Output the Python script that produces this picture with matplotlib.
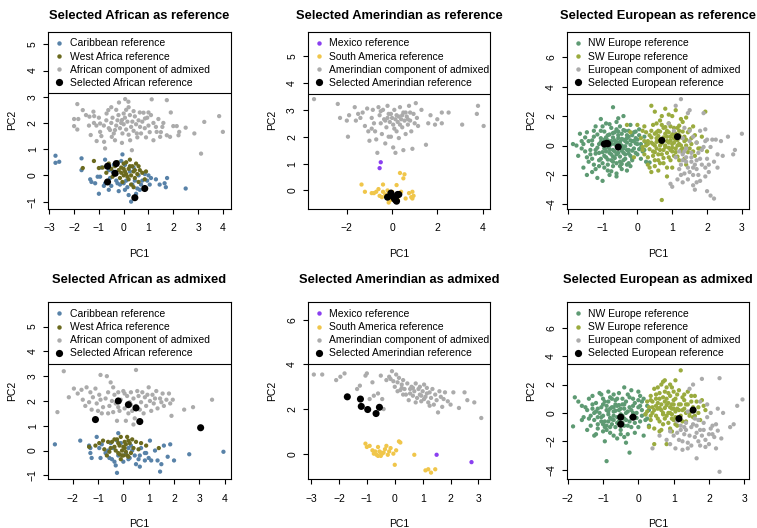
import numpy as np
import matplotlib
matplotlib.use("Agg")
import matplotlib.pyplot as plt
from matplotlib.lines import Line2D

plt.rcParams["font.family"] = ["Liberation Sans", "DejaVu Sans"]

# ── Colours ────────────────────────────────────────────────────────────────
CARIB = "#5882a8"
WAFR = "#6b6a1e"
GREY = "#ababab"
MEX = "#8a3ff0"
SAM = "#f0c64a"
NWE = "#5e9a73"
SWE = "#9aab3e"
BLACK = "#000000"

# ── Data: (PC1, PC2) pairs ────────────────────────────────────────────────
# Panel 1: Selected African as reference
afr_ref_carib = np.array([
    (-2.75, 0.75), (-2.75, 0.48), (-2.6, 0.52), (-1.7, 0.65), (-1.7, 0.2), (-1.35, -0.15),
    (-1.3, -0.25), (-1.0, -0.7), (-1.05, -0.05), (-0.95, -0.05), (-0.8, -0.4), (-0.75, -0.3),
    (-0.75, 0.6), (-0.6, 0.2), (-0.55, -0.1), (-0.45, 0.15), (-0.4, 0.4), (-0.3, -0.2),
    (-0.25, -0.3), (-0.2, -0.6), (-0.1, 0.55), (-0.05, 0.8), (0.0, -0.3), (0.05, -0.55),
    (0.1, -0.2), (0.2, -0.75), (0.3, -1.0), (0.35, -0.35), (0.45, -0.2), (0.5, -0.7),
    (0.55, -0.5), (0.6, 0.0), (0.7, -0.35), (0.75, -0.2), (0.85, 0.05), (0.95, -0.2),
    (1.05, -0.35), (1.1, -0.1), (1.3, -0.15), (1.45, -0.35), (1.65, -0.3), (1.7, -0.45),
    (1.75, -0.1), (2.5, -0.5), (-0.6, -0.55), (-0.35, 0.1), (0.25, 0.15), (0.4, 0.3),
    (0.05, 0.4), (-0.9, 0.3), (-0.5, -0.4), (-0.15, -0.35), (0.15, -0.45), (0.65, -0.55),
    (-1.15, -0.3), (1.0, 0.0)])
afr_ref_wafr = np.array([
    (-1.65, 0.28), (-1.2, 0.55), (-1.0, 0.28), (-0.85, 0.3), (-0.7, 0.1), (-0.6, 0.45),
    (-0.5, 0.25), (-0.45, -0.05), (-0.35, 0.35), (-0.25, 0.5), (-0.2, 0.2), (-0.15, -0.1),
    (-0.1, 0.3), (0.0, 0.45), (0.05, 0.15), (0.1, 0.5), (0.15, -0.05), (0.2, 0.25),
    (0.25, 0.6), (0.3, 0.0), (0.35, 0.35), (0.4, 0.15), (0.45, -0.1), (0.5, 0.45),
    (0.55, 0.05), (0.6, -0.25), (0.65, 0.2), (0.75, 0.1), (0.85, -0.15), (0.9, 0.15),
    (0.3, -0.35), (-0.05, -0.25), (0.2, -0.15), (0.0, 0.0), (0.4, -0.45), (0.1, 0.05),
    (-0.3, 0.05), (0.6, 0.35), (0.0, 0.25), (0.25, 0.35), (0.45, 0.2), (-0.1, 0.1)])
afr_ref_admix = np.array([
    (-1.87, 2.72), (-1.65, 2.49), (-2.0, 2.15), (-1.83, 2.15), (-2.0, 1.88), (-1.87, 1.75),
    (-1.52, 2.3), (-1.38, 2.24), (-1.22, 2.43), (-1.19, 2.26), (-1.33, 1.54), (-1.09, 1.31),
    (-0.75, 1.03), (-0.79, 1.28), (-0.95, 1.98), (-0.95, 1.66), (-0.69, 2.36), (-0.62, 2.49),
    (-0.55, 1.73), (-0.35, 1.73), (-0.48, 1.47), (-0.35, 1.34), (-0.19, 2.78), (0.06, 2.91),
    (0.19, 2.81), (-0.21, 2.3), (0.0, 2.36), (-0.07, 2.11), (0.26, 1.34), (-0.07, 1.24),
    (0.33, 0.96), (0.53, 1.6), (0.66, 1.85), (0.8, 2.39), (0.86, 2.17), (1.13, 2.9),
    (1.74, 2.87), (1.9, 2.4), (1.2, 1.34), (1.33, 1.66), (1.47, 1.47), (1.56, 1.85),
    (1.74, 1.53), (1.87, 1.47), (2.0, 1.88), (2.14, 1.88), (2.21, 1.53), (2.24, 1.66),
    (2.5, 1.82), (2.85, 1.6), (3.12, 0.83), (3.25, 2.04), (3.85, 2.26), (4.0, 1.66),
    (-0.8, 1.9), (-0.7, 2.1), (-0.6, 1.8), (-0.5, 2.0), (-0.45, 2.2), (-0.4, 1.6),
    (-0.3, 1.9), (-0.25, 2.1), (-0.15, 1.8), (-0.1, 2.0), (-0.05, 1.6), (0.0, 1.95),
    (0.05, 2.2), (0.1, 1.75), (0.15, 2.05), (0.2, 1.55), (0.25, 2.3), (0.3, 1.85),
    (0.35, 2.05), (0.4, 1.7), (0.45, 2.25), (0.5, 1.95), (0.55, 1.45), (0.6, 2.1),
    (0.7, 1.6), (0.75, 2.05), (0.85, 1.8), (0.9, 1.45), (0.95, 2.2), (1.0, 1.9),
    (1.05, 1.65), (1.1, 2.3), (1.2, 2.0), (1.3, 1.85), (1.4, 2.15), (1.5, 1.65),
    (1.6, 2.0), (-1.1, 1.9), (-1.2, 2.0), (-1.0, 2.2), (-0.9, 1.5), (-1.4, 1.9),
    (0.1, 2.5), (0.4, 2.45), (-0.3, 2.5), (0.65, 2.4), (1.0, 2.4), (0.2, 2.6), (-0.5, 2.6)])
afr_ref_sel = np.array([
    (-0.65, 0.35), (-0.3, 0.45), (-0.35, 0.08), (-0.65, -0.25), (0.85, -0.5), (0.45, -0.85)])

# Panel 2: Selected Amerindian as reference
ame_ref_mex = np.array([(-0.5, 1.05), (-0.55, 0.83)])
ame_ref_sam = np.array([
    (-1.35, 0.22), (-1.2, -0.05), (-0.9, -0.1), (-0.8, -0.1), (-0.7, -0.05), (-0.6, 0.05),
    (-0.55, -0.2), (-0.4, 0.22), (-0.4, -0.05), (-0.3, -0.15), (-0.2, -0.3), (-0.15, -0.45),
    (-0.1, -0.15), (0.0, -0.05), (0.1, -0.25), (0.2, 0.2), (0.35, 0.65), (0.5, 0.45),
    (0.55, 0.6), (0.4, -0.05), (0.6, -0.3), (0.75, -0.1), (0.85, -0.25), (0.9, -0.05),
    (0.95, -0.2), (-0.2, 0.0), (-0.05, -0.35), (0.3, -0.2), (0.9, -0.3), (-0.45, -0.25),
    (0.25, -0.35)])
ame_ref_admix = np.array([
    (-3.45, 3.4), (-2.4, 3.22), (-2.0, 2.6), (-1.9, 2.8), (-1.95, 2.0), (-1.65, 3.1),
    (-1.5, 2.85), (-1.6, 2.6), (-1.3, 2.9), (-1.2, 2.4), (-1.1, 3.05), (-1.05, 2.2),
    (-1.0, 1.85), (-0.9, 2.7), (-0.85, 3.0), (-0.8, 2.5), (-0.75, 2.2), (-0.7, 1.9),
    (-0.65, 1.4), (-0.6, 3.1), (-0.55, 2.8), (-0.5, 2.5), (-0.45, 2.1), (-0.4, 3.0),
    (-0.35, 2.65), (-0.3, 1.75), (-0.25, 2.35), (-0.2, 3.15), (-0.15, 2.85), (-0.1, 2.55),
    (-0.05, 2.0), (0.0, 2.7), (0.05, 1.6), (0.1, 3.0), (0.1, 2.3), (0.15, 1.4),
    (0.2, 2.8), (0.25, 2.55), (0.3, 1.95), (0.35, 3.1), (0.4, 2.65), (0.45, 2.35),
    (0.5, 1.5), (0.5, 2.9), (0.55, 2.6), (0.6, 2.1), (0.65, 2.75), (0.7, 2.45),
    (0.75, 3.15), (0.8, 2.6), (0.85, 2.2), (0.9, 1.55), (0.95, 2.85), (1.0, 2.5),
    (1.05, 3.25), (1.1, 2.7), (1.15, 2.4), (1.3, 3.0), (1.5, 1.7), (1.6, 2.5),
    (1.7, 2.8), (1.9, 2.45), (2.0, 2.65), (2.2, 2.9), (2.2, 2.5), (2.5, 2.9),
    (3.1, 2.45), (3.8, 3.15), (3.75, 2.85), (4.05, 2.4), (-0.15, 2.0), (-0.5, 2.95),
    (0.3, 2.75), (0.05, 2.45), (-0.3, 2.6), (0.6, 2.9), (0.2, 2.2), (-0.9, 2.3),
    (-1.4, 2.7), (0.8, 2.9), (-2.3, 2.7), (0.35, 2.45), (-0.05, 2.85), (0.7, 2.65),
    (0.15, 2.65), (0.45, 2.8), (-0.2, 2.7)])
ame_ref_sel = np.array([
    (-0.2, -0.25), (-0.05, -0.1), (0.0, -0.2), (0.1, -0.3), (0.2, -0.4), (0.25, -0.15),
    (0.3, -0.15), (0.15, -0.35)])

# Panel 3: Selected European as reference
eur_ref_nw = np.array([
    (-1.85, 0.1), (-1.7, -0.7), (-1.65, 0.8), (-1.5, 0.55), (-1.55, -1.5), (-1.45, -2.0),
    (-1.4, 0.3), (-1.35, -0.3), (-1.3, -0.9), (-1.25, 0.6), (-1.2, -1.6), (-1.15, -2.2),
    (-1.1, 0.1), (-1.1, -0.5), (-1.05, 1.0), (-1.0, -1.2), (-1.0, -2.4), (-0.95, 0.4),
    (-0.95, -0.2), (-0.9, 1.5), (-0.9, -0.8), (-0.85, 0.7), (-0.85, -1.7), (-0.8, 0.0),
    (-0.8, -0.5), (-0.8, -2.0), (-0.75, 1.2), (-0.75, 0.3), (-0.75, -1.0), (-0.7, 2.6),
    (-0.7, -0.3), (-0.7, -1.4), (-0.65, 0.9), (-0.65, 0.1), (-0.6, 1.6), (-0.6, -0.6),
    (-0.6, -1.9), (-0.55, 0.5), (-0.55, -0.2), (-0.5, 1.3), (-0.5, -1.1), (-0.45, 0.8),
    (-0.45, 0.0), (-0.45, -1.6), (-0.4, 2.0), (-0.4, 0.4), (-0.4, -0.5), (-0.35, 1.0),
    (-0.35, -0.9), (-0.3, 0.2), (-0.3, -1.3), (-0.25, 0.6), (-0.25, -0.3), (-0.2, 1.4),
    (-0.2, -0.7), (-0.15, 0.3), (-0.15, -1.0), (-0.1, 0.9), (-0.1, -0.2), (-0.05, 0.5),
    (0.0, -0.6), (0.05, 1.1), (0.1, 0.1), (0.15, -0.4), (0.2, 0.6), (0.25, -1.1),
    (0.3, -1.2), (0.35, -1.15), (-1.25, -1.3), (-1.3, 0.05), (-1.15, -0.15), (-1.05, 0.5),
    (-1.0, 0.2), (-0.9, -0.4), (-0.85, 0.35), (-0.7, 0.55), (-0.65, -0.85), (-0.55, 0.95),
    (-0.5, 0.25), (-0.35, -0.05), (-0.25, -0.55), (-0.2, 0.05), (-0.15, 0.7), (-0.05, 0.15),
    (0.0, 0.4), (0.1, -0.15), (-1.6, -0.2), (-1.45, 0.9), (-1.2, 1.3), (-0.95, -1.5),
    (-0.75, -1.75), (-0.5, -1.4), (-0.3, -1.7), (-1.05, -0.9), (-0.6, 0.0), (-0.9, 0.15),
    (-1.2, -0.55), (-0.4, -0.2), (-0.3, 0.7),
    (-1.3, 0.35), (-1.2, -0.3), (-1.15, 0.75), (-1.1, -1.0), (-1.05, 0.25), (-1.0, -0.45),
    (-0.95, 0.95), (-0.9, -0.15), (-0.9, 0.55), (-0.85, -0.95), (-0.85, 0.0), (-0.8, 0.75),
    (-0.8, -0.25), (-0.75, -0.6), (-0.75, 0.1), (-0.7, 0.85), (-0.7, -0.75), (-0.65, 0.35),
    (-0.65, -0.4), (-0.6, 1.1), (-0.6, -1.2), (-0.6, 0.25), (-0.55, -0.5), (-0.55, 0.7),
    (-0.5, -0.75), (-0.5, 0.05), (-0.45, 0.45), (-0.45, -0.35), (-0.4, 1.05), (-0.4, -1.0),
    (-0.35, 0.3), (-0.35, -0.6), (-0.3, -0.3), (-0.3, 0.5), (-0.25, 1.0), (-0.25, -1.2),
    (-0.2, 0.35), (-0.15, -0.35), (-0.1, 0.3), (-0.05, -0.5), (0.0, 0.1), (0.05, -0.25),
    (-1.35, -0.6), (-1.4, -1.1), (-1.5, -0.4), (-1.25, 1.0), (-1.0, 1.3), (-0.8, 1.45),
    (-0.55, 1.85), (-0.95, -0.7), (-1.1, -1.4), (-0.7, -1.1), (-0.45, -1.25), (-0.2, -1.4),
    (-0.85, -1.3), (-1.3, -1.8), (-0.6, -2.1), (-1.05, 1.8), (-1.6, 0.3), (-1.75, 0.0),
    (-1.55, 0.1), (-1.45, -0.8), (0.05, 0.7), (0.2, -0.3), (0.25, 0.2), (-0.05, 0.95),
    (-0.15, -0.85), (0.1, -0.9)])
eur_ref_sw = np.array([
    (0.1, 0.5), (0.15, -0.3), (0.2, 1.3), (0.25, 0.0), (0.3, -0.8), (0.35, 0.7),
    (0.35, -1.5), (0.4, 2.7), (0.4, 0.2), (0.45, -0.4), (0.45, 1.4), (0.5, 2.3),
    (0.5, -1.0), (0.55, 0.5), (0.55, -0.2), (0.6, 1.0), (0.6, -1.7), (0.65, 0.0),
    (0.65, 1.7), (0.7, -0.6), (0.7, 0.4), (0.75, 1.2), (0.75, -1.2), (0.8, 2.5),
    (0.8, 0.8), (0.8, -0.1), (0.85, -2.1), (0.85, 0.3), (0.9, -0.8), (0.9, 1.5),
    (0.95, 0.6), (0.95, -0.3), (1.0, 2.0), (1.0, 0.1), (1.0, -1.5), (1.05, 0.9),
    (1.05, -0.7), (1.1, 2.4), (1.1, 0.4), (1.1, -0.2), (1.15, 1.2), (1.2, -1.0),
    (1.2, 0.7), (1.25, 0.0), (1.3, 1.6), (1.3, -0.5), (1.35, 0.3), (1.4, -1.3),
    (1.45, 0.9), (1.5, -0.2), (1.55, 0.5), (1.6, 1.3), (1.65, -0.7), (1.7, 0.2),
    (1.8, -0.2), (1.85, 0.6), (1.95, 2.3), (2.0, -0.4), (0.7, -3.7), (0.4, -1.8),
    (0.55, 0.9), (0.6, 0.3), (0.75, -0.3), (0.85, 1.0), (0.9, 0.2), (0.95, 1.3),
    (1.0, -0.4), (1.05, 0.5), (1.15, 0.0), (1.2, 1.0), (1.25, -0.3), (1.35, 0.6),
    (1.4, 0.0), (0.25, 0.9), (0.3, 0.3), (0.5, 0.0), (0.45, -0.7), (0.65, -1.2),
    (0.2, -0.6), (0.15, 1.0), (-0.2, 0.9), (-0.1, -0.8), (0.0, 1.4), (-0.3, 1.4),
    (0.3, 0.1), (0.35, -0.25), (0.4, 0.55), (0.45, 0.1), (0.5, 0.8), (0.5, -0.45),
    (0.55, 0.25), (0.6, -0.6), (0.6, 0.65), (0.65, -0.3), (0.65, 0.95), (0.7, 0.15),
    (0.7, 1.4), (0.75, -0.85), (0.75, 0.55), (0.8, 0.0), (0.8, 1.25), (0.85, -0.5),
    (0.85, 0.6), (0.9, -0.15), (0.9, 0.9), (0.95, -1.0), (0.95, 0.35), (1.0, 0.75),
    (1.0, -0.15), (1.05, 1.2), (1.05, 0.2), (1.1, -0.45), (1.1, 0.8), (1.15, 0.35),
    (1.15, -0.75), (1.2, 1.35), (1.2, 0.1), (1.25, 0.55), (1.3, -0.2), (1.3, 0.95),
    (1.35, -0.9), (1.4, 0.4), (1.45, -0.45), (1.5, 1.1), (1.55, 0.1), (1.6, -0.4),
    (1.65, 0.7), (1.75, -0.2), (0.4, 1.0), (0.55, 1.5), (0.6, -1.0), (0.85, -1.5),
    (0.9, 2.1), (1.25, 1.8), (0.3, -1.3), (0.5, -1.4), (0.7, 2.0), (1.4, 1.9),
    (0.2, 0.3), (0.15, -0.1)])
eur_ref_admix = np.array([
    (0.9, 1.5), (1.05, 1.0), (1.1, -0.8), (1.2, -1.6), (1.25, -2.0), (1.3, 0.5),
    (1.35, -0.4), (1.4, -1.1), (1.45, -2.3), (1.5, 2.4), (1.5, 1.0), (1.55, -0.8),
    (1.6, -1.5), (1.6, -2.7), (1.65, -3.0), (1.7, 0.2), (1.7, -1.0), (1.75, -2.0),
    (1.8, 1.0), (1.85, -0.3), (1.85, -1.3), (1.9, 2.2), (1.95, -2.1), (2.0, 0.4),
    (2.0, -0.9), (2.05, -1.8), (2.1, -3.4), (2.15, 0.4), (2.2, -3.6), (2.2, -1.1),
    (2.25, 0.4), (2.3, -0.6), (2.45, -0.7), (2.6, 0.6), (2.75, -0.6), (2.8, -0.3),
    (3.0, 0.8), (1.1, 2.7), (1.25, 3.15), (1.45, 2.2), (1.3, -1.0), (1.4, -0.2),
    (1.5, -1.8), (1.55, -0.5), (1.65, -1.3), (1.75, -0.5), (1.95, -1.5), (2.0, -3.1),
    (1.0, -2.8), (0.95, -2.6), (1.15, -2.3), (1.3, -2.5), (1.8, -2.4), (1.7, -2.5),
    (2.1, -0.1), (1.6, 0.6), (1.2, -0.4), (1.35, 1.2), (1.95, 1.1),
    (1.3, -0.6), (1.45, -1.5), (1.55, -1.1), (1.6, -2.0), (1.7, -1.6), (1.8, -0.9),
    (1.9, -0.1), (2.05, -1.3), (1.25, -1.3), (1.4, -0.8), (1.5, 0.3), (2.3, -1.5),
    (2.4, 0.3), (1.95, 0.3), (1.35, -1.9)])
eur_ref_sel = np.array([
    (-0.95, 0.1), (-0.88, 0.15), (-0.85, 0.12), (-0.55, -0.1), (0.7, 0.35), (1.15, 0.6)])

# Panel 4: Selected African as admixed
afr_adm_carib = np.array([
    (-2.7, 0.25), (-1.7, 0.4), (-1.35, 0.2), (-1.3, -0.1), (-1.3, 0.1), (-1.25, -0.3),
    (-1.05, 0.55), (-0.95, 0.1), (-0.9, -0.3), (-0.85, 0.25), (-0.7, -0.1), (-0.6, 0.0),
    (-0.5, 0.3), (-0.45, -0.35), (-0.4, 0.1), (-0.35, -0.45), (-0.3, -0.6), (-0.25, 0.4),
    (-0.2, -0.2), (-0.2, 0.7), (-0.25, -0.9), (-0.1, 0.3), (0.0, -0.45), (0.1, -0.1),
    (0.2, 0.1), (0.25, -0.3), (0.3, 0.2), (0.35, 0.0), (0.45, -0.2), (0.5, -0.55),
    (0.6, -0.35), (0.65, -0.2), (0.7, 0.1), (0.85, -0.4), (0.9, -0.1), (1.0, -0.3),
    (1.05, 0.4), (1.1, -0.4), (1.25, 0.0), (1.35, -0.4), (1.45, -0.85), (1.5, -0.55),
    (1.6, 0.2), (1.75, -0.25), (1.85, 0.25), (2.0, -0.4), (2.6, -0.15), (3.95, -0.05),
    (0.65, -0.65), (0.2, -0.35), (-0.55, -0.3), (0.85, -0.1)])
afr_adm_wafr = np.array([
    (-1.35, 0.15), (-1.1, 0.2), (-0.95, 0.3), (-0.8, 0.4), (-0.75, 0.05), (-0.65, -0.2),
    (-0.6, 0.35), (-0.5, 0.1), (-0.45, 0.35), (-0.35, 0.15), (-0.3, 0.0), (-0.25, 0.45),
    (-0.2, -0.1), (-0.15, 0.2), (-0.1, -0.35), (-0.1, 0.55), (-0.05, 0.0), (0.0, -0.2),
    (0.05, 0.35), (0.1, -0.05), (0.15, 0.55), (0.2, -0.25), (0.25, 0.3), (0.3, -0.1),
    (0.35, 0.45), (0.4, 0.1), (0.5, 0.35), (0.6, 0.05), (0.7, 0.3), (0.9, 0.2),
    (1.4, 0.1), (-0.15, -0.15), (0.0, 0.15), (0.15, -0.2), (-0.05, -0.2), (0.05, 0.1),
    (-0.55, -0.05), (-0.2, 0.3), (0.1, 0.25), (-0.35, 0.45), (0.2, 0.4)])
afr_adm_admix = np.array([
    (-2.6, 1.55), (-2.35, 3.2), (-2.15, 2.15), (-1.95, 2.5), (-1.8, 2.3), (-1.65, 2.45),
    (-1.6, 2.05), (-1.5, 1.8), (-1.45, 2.55), (-1.3, 2.35), (-1.25, 1.65), (-1.2, 2.15),
    (-1.1, 2.5), (-1.05, 1.9), (-1.0, 1.6), (-0.95, 2.25), (-0.9, 2.05), (-0.85, 1.5),
    (-0.8, 1.75), (-0.7, 2.1), (-0.65, 3.0), (-0.6, 2.35), (-0.55, 1.8), (-0.5, 2.75),
    (-0.45, 2.0), (-0.4, 1.55), (-0.35, 2.25), (-0.3, 1.9), (-0.25, 1.2), (-0.2, 2.35),
    (-0.15, 1.6), (-0.1, 2.05), (0.0, 2.4), (0.05, 1.7), (0.1, 1.2), (0.15, 2.2),
    (0.2, 1.5), (0.25, 1.95), (0.3, 2.35), (0.35, 1.6), (0.4, 2.1), (0.45, 1.3),
    (0.5, 3.25), (0.5, 1.8), (0.55, 2.4), (0.6, 2.2), (0.7, 1.95), (0.75, 2.35),
    (0.8, 1.5), (0.85, 2.15), (0.9, 1.8), (1.0, 2.55), (1.05, 2.0), (1.1, 1.6),
    (1.15, 2.25), (1.2, 1.9), (1.3, 2.4), (1.35, 1.7), (1.45, 2.1), (1.5, 1.95),
    (1.55, 2.3), (1.6, 1.8), (1.7, 2.05), (1.8, 2.3), (1.85, 1.9), (1.9, 1.4),
    (1.95, 2.05), (2.4, 1.65), (2.75, 1.75), (3.5, 2.05), (-0.9, 3.05), (-0.4, 2.55),
    (0.05, 2.3), (0.3, 1.85), (-0.2, 1.75), (0.65, 1.65), (1.25, 2.1), (-1.35, 1.95),
    (-0.6, 1.5), (0.95, 2.25), (0.4, 1.05)])
afr_adm_sel = np.array([
    (-1.1, 1.25), (-0.2, 2.0), (0.2, 1.85), (0.5, 1.72), (0.65, 1.17), (3.05, 0.92)])

# Panel 5: Selected Amerindian as admixed
ame_adm_mex = np.array([(1.5, -0.05), (2.75, -0.38)])
ame_adm_sam = np.array([
    (-1.05, 0.45), (-1.0, 0.3), (-0.9, 0.35), (-0.8, 0.15), (-0.75, 0.0), (-0.7, 0.1),
    (-0.65, -0.05), (-0.6, 0.3), (-0.55, 0.1), (-0.5, -0.1), (-0.45, 0.0), (-0.35, 0.2),
    (-0.3, 0.35), (-0.25, -0.05), (-0.2, 0.1), (-0.15, 0.25), (-0.05, 0.0), (0.0, -0.5),
    (0.05, 0.15), (0.15, 0.55), (0.2, 0.5), (0.7, -0.05), (1.1, -0.75), (1.2, -0.7),
    (1.3, -0.85), (1.45, -0.7), (-0.6, -0.1), (-0.4, 0.05), (-0.5, 0.05)])
ame_adm_admix = np.array([
    (-2.9, 3.55), (-2.6, 3.55), (-2.1, 3.3), (-1.95, 3.45), (-1.8, 3.6), (-1.35, 2.9),
    (-1.25, 3.05), (-1.05, 3.5), (-1.0, 3.6), (-0.9, 2.45), (-0.8, 3.2), (-0.75, 2.6),
    (-0.6, 2.7), (-0.5, 3.5), (-0.45, 2.45), (-0.4, 2.0), (-0.3, 3.3), (-0.2, 3.45),
    (-0.15, 3.35), (-0.1, 3.7), (-0.05, 3.25), (0.0, 3.0), (0.05, 3.55), (0.1, 3.2),
    (0.15, 3.4), (0.2, 2.85), (0.25, 3.1), (0.3, 3.3), (0.35, 2.9), (0.4, 2.65),
    (0.45, 3.15), (0.5, 2.4), (0.55, 2.9), (0.6, 3.0), (0.65, 2.6), (0.7, 2.8),
    (0.75, 3.15), (0.8, 2.5), (0.85, 2.9), (0.9, 2.65), (0.95, 2.35), (1.0, 2.8),
    (1.05, 3.1), (1.1, 2.55), (1.15, 2.95), (1.2, 2.3), (1.25, 2.75), (1.3, 2.5),
    (1.35, 2.9), (1.4, 2.2), (1.45, 2.65), (1.5, 2.4), (1.6, 2.8), (1.55, 1.85),
    (1.65, 2.55), (1.7, 2.1), (1.8, 2.75), (1.9, 2.35), (2.0, 2.2), (2.1, 2.75),
    (2.3, 2.05), (2.5, 2.75), (2.6, 2.4), (2.85, 2.3), (3.1, 1.6), (0.1, 2.8),
    (0.9, 3.0), (0.3, 2.65), (1.25, 2.15), (0.75, 2.3), (1.75, 2.45), (0.55, 2.7),
    (0.95, 2.6), (1.15, 2.7), (0.65, 2.95), (1.05, 2.45), (0.25, 2.95)])
ame_adm_sel = np.array([
    (-1.7, 2.55), (-1.23, 2.45), (-1.2, 2.12), (-0.97, 1.98), (-0.67, 1.8), (-0.55, 2.08)])

# Panel 6: Selected European as admixed
eur_adm_nw = np.array([
    (-1.85, -0.95), (-1.8, 1.1), (-1.7, 0.8), (-1.6, -0.5), (-1.5, 0.4), (-1.45, -1.2),
    (-1.4, 1.0), (-1.35, -0.2), (-1.3, 0.6), (-1.25, -1.6), (-1.2, 0.1), (-1.15, -0.8),
    (-1.1, 1.4), (-1.05, -0.3), (-1.0, 0.6), (-1.0, -1.3), (-0.95, -2.0), (-0.9, 0.2),
    (-0.9, -3.4), (-0.85, -0.6), (-0.8, 1.1), (-0.8, -1.0), (-0.75, 0.4), (-0.7, -0.2),
    (-0.7, -1.6), (-0.65, 0.9), (-0.6, -0.7), (-0.55, 0.2), (-0.55, 1.4), (-0.5, -1.2),
    (-0.45, 0.6), (-0.4, -0.4), (-0.4, 1.8), (-0.35, -2.1), (-0.3, 0.1), (-0.3, -0.9),
    (-0.25, -2.8), (-0.25, 1.1), (-0.2, -0.3), (-0.15, 0.5), (-0.1, -1.4), (-0.05, 0.0),
    (0.0, 1.5), (0.05, -0.6), (0.1, 0.8), (0.15, -1.6), (0.2, -0.1), (0.25, 0.5),
    (0.3, -0.9), (-1.15, 0.3), (-1.05, -0.6), (-0.95, 0.8), (-0.85, -0.1), (-0.75, -0.45),
    (-0.65, 0.15), (-0.6, 0.5), (-0.5, -0.1), (-0.45, -0.7), (-0.35, 0.8), (-0.2, 0.2),
    (-0.1, -0.7), (0.0, 0.4), (-1.25, 0.0), (-0.95, -1.0), (-0.7, 1.3), (-0.4, 0.3),
    (-0.15, 1.0), (0.1, -0.2), (-1.4, -0.4), (-0.8, -1.4), (-0.3, -1.5), (0.05, 1.2),
    (-1.3, 0.3), (-1.25, -0.5), (-1.2, 0.7), (-1.15, -1.1), (-1.1, 0.0), (-1.05, 0.4),
    (-1.0, -0.2), (-1.0, 1.0), (-0.95, -0.6), (-0.9, 0.5), (-0.9, -1.2), (-0.85, 0.1),
    (-0.85, 0.8), (-0.8, -0.35), (-0.8, 0.3), (-0.75, -0.8), (-0.75, 1.0), (-0.7, 0.1),
    (-0.7, -0.5), (-0.65, 0.6), (-0.65, -1.0), (-0.6, -0.3), (-0.6, 1.0), (-0.55, -0.6),
    (-0.55, 0.55), (-0.5, 0.3), (-0.5, -1.5), (-0.45, -0.2), (-0.45, 1.0), (-0.4, -0.9),
    (-0.4, 0.6), (-0.35, 0.0), (-0.35, -0.5), (-0.3, 1.3), (-0.25, -0.6), (-0.25, 0.4),
    (-0.2, -1.0), (-0.15, 0.0), (-0.1, 0.7), (-0.05, -0.35), (0.0, 0.9), (0.0, -1.0),
    (0.1, 0.2), (0.15, 1.0), (0.2, -0.5), (-1.35, -0.9), (-1.45, 0.2), (-1.55, -0.3),
    (-1.2, -1.5), (-1.05, 1.3), (-0.85, 1.5), (-0.6, -1.8), (-0.4, -1.7), (-1.3, 1.2),
    (-1.6, 0.5), (-0.2, 1.6), (0.05, 0.5), (-0.9, -0.9), (-1.0, -0.8), (-0.7, 0.4),
    (-1.15, -0.3), (0.25, -0.4), (0.3, 0.2)])
eur_adm_sw = np.array([
    (0.2, -0.1), (0.25, 0.8), (0.3, -1.0), (0.35, 1.2), (0.4, 0.0), (0.45, 1.7),
    (0.45, -2.2), (0.5, 0.5), (0.55, -0.4), (0.6, 1.0), (0.6, -1.3), (0.65, 2.0),
    (0.65, 0.2), (0.7, -0.8), (0.75, 2.3), (0.75, 0.8), (0.8, -0.2), (0.8, -2.2),
    (0.85, 1.4), (0.9, 0.4), (0.9, -1.1), (0.95, 1.8), (1.0, -0.5), (1.0, 0.9),
    (1.05, 0.1), (1.1, 1.3), (1.1, -0.9), (1.15, 0.6), (1.2, 3.0), (1.2, -0.2),
    (1.25, 1.1), (1.3, 0.3), (1.35, -0.6), (1.4, 1.5), (1.45, 0.0), (1.5, 0.8),
    (1.55, -0.3), (1.6, 1.2), (1.7, 0.4), (1.75, -0.5), (1.8, 0.9), (1.9, 0.2),
    (0.55, 0.7), (0.7, -0.1), (0.85, 0.0), (0.95, 0.6), (1.05, -0.3), (1.15, 0.2),
    (1.3, 0.9), (0.4, 0.4), (0.35, -0.5), (0.5, 1.3), (0.75, 1.5), (1.0, 0.3),
    (0.6, 0.35), (0.8, 0.55), (0.95, -0.1), (1.35, 0.6), (0.25, 0.1),
    (0.3, 0.4), (0.35, -0.2), (0.4, 0.8), (0.45, 0.2), (0.5, -0.2), (0.5, 1.0),
    (0.55, 0.3), (0.6, -0.6), (0.6, 1.4), (0.65, 0.6), (0.7, 0.0), (0.7, 1.1),
    (0.75, -0.4), (0.75, 0.35), (0.8, 1.0), (0.8, 1.8), (0.85, -0.7), (0.85, 0.7),
    (0.9, 0.0), (0.9, 1.2), (0.95, 0.3), (0.95, -0.4), (1.0, 1.5), (1.0, 0.6),
    (1.05, -0.8), (1.05, 1.0), (1.1, 0.3), (1.15, -0.3), (1.15, 1.6), (1.2, 0.6),
    (1.25, -0.6), (1.25, 0.2), (1.3, 1.3), (1.35, 0.0), (1.4, 0.6), (1.45, -0.2),
    (1.5, 1.2), (1.55, 0.4), (1.6, -0.2), (1.65, 0.8), (1.7, 0.0), (1.85, 0.5),
    (0.55, 1.8), (0.7, 2.2), (0.9, 2.0), (1.05, 2.3), (0.45, -1.1), (0.65, -1.2),
    (0.95, -1.3), (0.35, 0.9)])
eur_adm_admix = np.array([
    (0.4, -2.5), (0.6, -1.6), (0.8, -1.9), (0.9, -2.2), (1.0, -1.6), (1.05, -2.5),
    (1.15, -1.9), (1.2, -1.2), (1.25, -2.6), (1.3, -1.5), (1.35, -0.7), (1.4, -2.1),
    (1.45, 1.7), (1.5, -1.0), (1.5, -2.3), (1.55, 2.0), (1.6, -0.4), (1.6, -1.7),
    (1.65, -3.2), (1.7, -2.0), (1.75, 0.8), (1.75, -1.2), (1.8, 2.4), (1.85, -0.7),
    (1.9, -2.4), (1.95, 0.6), (2.0, -1.5), (2.05, 0.0), (2.1, -0.9), (2.15, -1.7),
    (2.2, -2.5), (2.25, 0.3), (2.3, 2.45), (2.3, -4.15), (2.35, -1.8), (2.4, 0.0),
    (2.6, -1.0), (2.7, -0.8), (2.8, 0.5), (2.95, 0.95), (1.1, -0.6), (1.4, 0.1),
    (1.65, -0.9), (1.8, -1.6), (2.0, -2.2), (1.3, -1.0), (2.2, -0.8), (2.25, -1.25),
    (1.2, -0.9), (1.35, -1.2), (1.45, -1.6), (1.55, -0.8), (1.65, -1.4), (1.7, -0.5),
    (1.85, -1.2), (1.9, -1.9), (1.95, -0.3), (2.05, -1.1), (1.1, -1.4), (1.25, -2.0),
    (1.4, -2.5), (0.9, -1.3), (2.1, -1.5), (1.75, -2.3)])
eur_adm_sel = np.array([
    (-0.5, -0.3), (-0.5, -0.8), (-0.15, -0.3), (1.15, -0.4), (1.55, 0.2)])

# ── Panel definitions ───────────────────────────────────────────────────────
AFR_LABELS = ["Caribbean reference", "West Africa reference",
              "African component of admixed", "Selected African reference"]
AME_LABELS = ["Mexico reference", "South America reference",
              "Amerindian component of admixed", "Selected Amerindian reference"]
EUR_LABELS = ["NW Europe reference", "SW Europe reference",
              "European component of admixed", "Selected European reference"]

panels = [
    # title, groups, colours, labels, xlim, ylim, xticks, yticks, legend line
    ("Selected African as reference",
     [afr_ref_carib, afr_ref_wafr, afr_ref_admix, afr_ref_sel], [CARIB, WAFR],
     AFR_LABELS, (-3.04, 4.32), (-1.27, 5.48), range(-3, 5), range(-1, 6), 3.13),
    ("Selected Amerindian as reference",
     [ame_ref_mex, ame_ref_sam, ame_ref_admix, ame_ref_sel], [MEX, SAM],
     AME_LABELS, (-3.73, 4.34), (-0.68, 5.91), range(-2, 5, 2), range(0, 6), 3.58),
    ("Selected European as reference",
     [eur_ref_nw, eur_ref_sw, eur_ref_admix, eur_ref_sel], [NWE, SWE],
     EUR_LABELS, (-2.03, 3.21), (-4.29, 7.73), range(-2, 4), range(-4, 7, 2), 3.53),
    ("Selected African as admixed",
     [afr_adm_carib, afr_adm_wafr, afr_adm_admix, afr_adm_sel], [CARIB, WAFR],
     AFR_LABELS, (-2.96, 4.24), (-1.16, 5.98), range(-2, 5), range(-1, 6), 3.5),
    ("Selected Amerindian as admixed",
     [ame_adm_mex, ame_adm_sam, ame_adm_admix, ame_adm_sel], [MEX, SAM],
     AME_LABELS, (-3.12, 3.42), (-1.15, 6.79), range(-3, 4), range(0, 7, 2), 4.03),
    ("Selected European as admixed",
     [eur_adm_nw, eur_adm_sw, eur_adm_admix, eur_adm_sel], [NWE, SWE],
     EUR_LABELS, (-2.03, 3.14), (-4.68, 7.8), range(-2, 4), range(-4, 7, 2), 3.43),
]

W, H = 757, 528
fig = plt.figure(figsize=(W / 100, H / 100), dpi=100, facecolor="white")

col_left = [48.3, 307.7, 566.7]
row_top = [31.7, 302.3]
ax_w, ax_h = 182.5, 177.0

SMALL = 9.5
BIG = 26

for i, (title, groups, cols, labels, xl, yl, xt, yt, leg_y) in enumerate(panels):
    r, c = divmod(i, 3)
    ax = fig.add_axes([col_left[c] / W, 1 - (row_top[r] + ax_h) / H, ax_w / W, ax_h / H])
    ref1, ref2, admix, sel = groups
    ax.scatter(ref1[:, 0], ref1[:, 1], s=SMALL, color=cols[0], edgecolors="none", zorder=2)
    ax.scatter(ref2[:, 0], ref2[:, 1], s=SMALL, color=cols[1], edgecolors="none", zorder=2)
    ax.scatter(admix[:, 0], admix[:, 1], s=SMALL, color=GREY, edgecolors="none", zorder=2)
    ax.scatter(sel[:, 0], sel[:, 1], s=BIG, color=BLACK, edgecolors="none", zorder=3)

    ax.set_xlim(*xl)
    ax.set_ylim(*yl)
    ax.set_xticks(list(xt))
    ax.set_yticks(list(yt))
    ax.tick_params(direction="out", length=3.6, width=0.8, labelsize=7.5, pad=7)
    ax.tick_params(axis="y", pad=4)
    for lab in ax.get_yticklabels():
        lab.set_rotation(90)
        lab.set_va("center")
    for sp in ax.spines.values():
        sp.set_linewidth(0.8)

    # legend box bottom edge
    ax.axhline(leg_y, color="black", lw=0.8, zorder=4)
    handles = [
        Line2D([], [], ls="none", marker="o", ms=3.2, mec="none", mfc=cols[0]),
        Line2D([], [], ls="none", marker="o", ms=3.2, mec="none", mfc=cols[1]),
        Line2D([], [], ls="none", marker="o", ms=3.2, mec="none", mfc=GREY),
        Line2D([], [], ls="none", marker="o", ms=5.2, mec="none", mfc=BLACK),
    ]
    ax.legend(handles, labels, loc="upper left", bbox_to_anchor=(0.0, 1.0),
              frameon=False, fontsize=7.5, handlelength=0.8, handletextpad=0.6,
              labelspacing=0.3, borderpad=0.45, borderaxespad=0.2)

    ax.set_title(title, fontsize=9.3, fontweight="bold", pad=9.0 if r == 0 else 14.0)
    ax.set_xlabel("PC1", fontsize=7.5, va="center")
    ax.xaxis.set_label_coords(0.5, -45 / ax_h)
    ax.set_ylabel("PC2", fontsize=7.5, va="center")
    ax.yaxis.set_label_coords(-36 / ax_w, 0.5)

fig.savefig("out.png", dpi=100, facecolor="white")
